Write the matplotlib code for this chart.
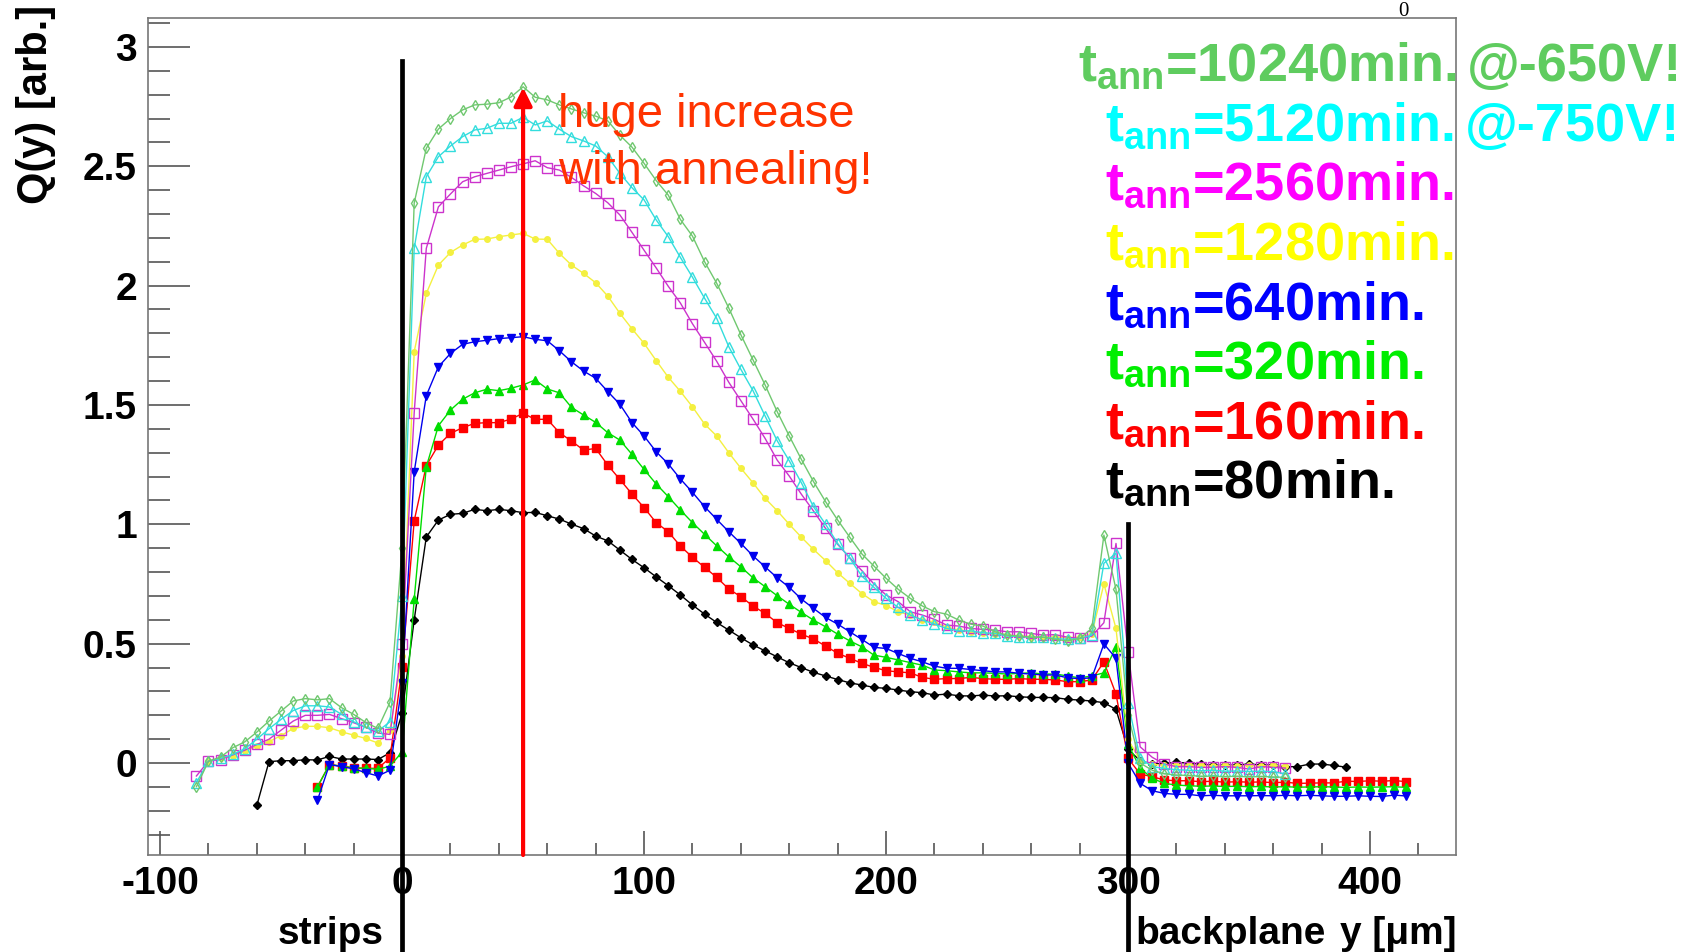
import numpy as np
import matplotlib
matplotlib.use("Agg")
import matplotlib.pyplot as plt

plt.rcParams['font.family'] = ['Liberation Sans', 'DejaVu Sans']
plt.rcParams['mathtext.fontset'] = 'custom'
plt.rcParams['mathtext.rm'] = 'Liberation Sans'
plt.rcParams['mathtext.bf'] = 'Liberation Sans:bold'
plt.rcParams['axes.unicode_minus'] = False

# --- data: Q(y) profiles, one point every 5 um ---
step = 5
x0_t10240 = -85
q_t10240 = [-0.099, 0.008, 0.025, 0.064, 0.089, 0.13, 0.176, 0.218, 0.26, 0.27, 0.265, 0.27, 0.232, 0.204, 0.17, 0.145, 0.255,
            0.9, 2.346, 2.575, 2.656, 2.70, 2.736, 2.757, 2.76, 2.766, 2.79, 2.833, 2.789, 2.778, 2.757, 2.74, 2.724, 2.71, 2.69,
            2.63, 2.58, 2.512, 2.44, 2.379, 2.277, 2.207, 2.1, 2.01, 1.906, 1.794, 1.689, 1.584, 1.472, 1.37, 1.272, 1.179, 1.095,
            1.018, 0.946, 0.876, 0.825, 0.774, 0.728, 0.69, 0.658, 0.634, 0.624, 0.599, 0.582, 0.574, 0.55, 0.536, 0.532, 0.527,
            0.527, 0.518, 0.512, 0.522, 0.564, 0.955, 0.728, 0.2, 0.0, -0.03, -0.045, -0.05, -0.052, -0.055, -0.055, -0.057,
            -0.055, -0.058, -0.056, -0.058, -0.06]
x0_t5120 = -85
q_t5120 = [-0.082, 0.008, 0.02, 0.036, 0.06, 0.1, 0.144, 0.183, 0.22, 0.24, 0.24, 0.235, 0.204, 0.173, 0.15, 0.134, 0.173,
           0.7, 2.156, 2.456, 2.54, 2.585, 2.624, 2.652, 2.659, 2.68, 2.68, 2.705, 2.673, 2.69, 2.655, 2.624, 2.606, 2.585, 2.54,
           2.47, 2.41, 2.359, 2.275, 2.205, 2.118, 2.035, 1.947, 1.863, 1.744, 1.649, 1.56, 1.454, 1.35, 1.266, 1.174, 1.074, 1.0,
           0.92, 0.858, 0.783, 0.736, 0.69, 0.652, 0.62, 0.599, 0.582, 0.564, 0.554, 0.554, 0.546, 0.543, 0.532, 0.53, 0.527,
           0.527, 0.522, 0.518, 0.522, 0.536, 0.837, 0.879, 0.25, 0.02, -0.015, -0.022, -0.028, -0.03, -0.032, -0.03, -0.034,
           -0.033, -0.035, -0.034, -0.036, -0.045]
x0_t2560 = -85
q_t2560 = [-0.054, 0.008, 0.015, 0.034, 0.054, 0.078, 0.1, 0.138, 0.176, 0.2, 0.2, 0.204, 0.186, 0.169, 0.15, 0.126, 0.12,
           0.5, 1.468, 2.156, 2.33, 2.384, 2.435, 2.456, 2.47, 2.484, 2.498, 2.51, 2.523, 2.494, 2.484, 2.453, 2.418, 2.386, 2.347,
           2.296, 2.223, 2.148, 2.074, 1.997, 1.927, 1.84, 1.762, 1.683, 1.595, 1.518, 1.441, 1.36, 1.269, 1.202, 1.126, 1.056,
           0.983, 0.916, 0.86, 0.806, 0.75, 0.704, 0.676, 0.634, 0.62, 0.602, 0.578, 0.574, 0.564, 0.56, 0.557, 0.55, 0.55,
           0.543, 0.536, 0.538, 0.527, 0.522, 0.532, 0.588, 0.92, 0.466, 0.068, 0.024, -0.004, -0.015, -0.015, -0.018, -0.018,
           -0.015, -0.018, -0.025, -0.015, -0.018, -0.021]
x0_t1280 = -80
q_t1280 = [0.008, 0.02, 0.03, 0.05, 0.07, 0.09, 0.115, 0.145, 0.154, 0.154, 0.148, 0.131, 0.117, 0.103, 0.084, 0.14,
           0.45, 1.723, 1.967, 2.086, 2.139, 2.17, 2.194, 2.195, 2.205, 2.212, 2.219, 2.195, 2.194, 2.135, 2.086, 2.051, 2.012,
           1.956, 1.884, 1.819, 1.758, 1.686, 1.616, 1.557, 1.492, 1.42, 1.37, 1.3, 1.235, 1.174, 1.109, 1.057, 1.0, 0.946,
           0.895, 0.848, 0.797, 0.753, 0.71, 0.676, 0.66, 0.634, 0.62, 0.60, 0.59, 0.57, 0.556, 0.55, 0.543, 0.54, 0.536, 0.533,
           0.53, 0.53, 0.528, 0.525, 0.528, 0.54, 0.75, 0.564, 0.1, 0.01, -0.005, -0.01, -0.008, -0.01, -0.01, -0.012, -0.01,
           -0.012, -0.01, -0.012, -0.01, -0.012]
x0_t640 = -35
q_t640 = [-0.156, -0.006, -0.015, -0.024, -0.04, -0.054, -0.03,
          0.334, 1.22, 1.539, 1.66, 1.716, 1.754, 1.765, 1.771, 1.778, 1.782, 1.786, 1.775, 1.769, 1.727, 1.681, 1.642, 1.612,
          1.556, 1.503, 1.426, 1.37, 1.304, 1.253, 1.19, 1.134, 1.074, 1.021, 0.969, 0.92, 0.868, 0.822, 0.776, 0.736, 0.687,
          0.648, 0.61, 0.582, 0.55, 0.518, 0.485, 0.48, 0.459, 0.439, 0.424, 0.406, 0.397, 0.397, 0.392, 0.387, 0.382, 0.382,
          0.376, 0.373, 0.369, 0.369, 0.357, 0.354, 0.357, 0.499, 0.439, 0.0, -0.085, -0.116, -0.127, -0.131, -0.131, -0.137,
          -0.135, -0.137, -0.137, -0.137, -0.136, -0.137, -0.135, -0.137, -0.135, -0.137, -0.139, -0.139, -0.137, -0.139,
          -0.14, -0.134, -0.138]
x0_t320 = -35
q_t320 = [-0.1, -0.006, -0.013, -0.02, -0.022, -0.026, -0.013,
          0.047, 0.687, 1.241, 1.413, 1.479, 1.524, 1.551, 1.566, 1.56, 1.57, 1.584, 1.605, 1.567, 1.551, 1.49, 1.458, 1.427,
          1.384, 1.353, 1.293, 1.23, 1.169, 1.116, 1.06, 1.007, 0.958, 0.91, 0.864, 0.822, 0.776, 0.739, 0.701, 0.665, 0.631,
          0.599, 0.571, 0.54, 0.512, 0.487, 0.452, 0.443, 0.432, 0.421, 0.41, 0.39, 0.387, 0.382, 0.378, 0.378, 0.376, 0.373,
          0.376, 0.378, 0.373, 0.373, 0.365, 0.357, 0.365, 0.378, 0.487, 0.08, -0.022, -0.064, -0.085, -0.092, -0.095, -0.097,
          -0.096, -0.098, -0.097, -0.099, -0.098, -0.1, -0.099, -0.101, -0.1, -0.099, -0.1, -0.102, -0.1, -0.101, -0.1,
          -0.099, -0.102]
x0_t160 = -35
q_t160 = [-0.1, -0.006, -0.013, -0.02, -0.022, -0.022, 0.022,
          0.401, 1.015, 1.246, 1.332, 1.381, 1.405, 1.423, 1.426, 1.426, 1.441, 1.465, 1.44, 1.44, 1.384, 1.349, 1.311, 1.318,
          1.248, 1.188, 1.127, 1.07, 1.007, 0.969, 0.909, 0.862, 0.82, 0.778, 0.729, 0.697, 0.658, 0.627, 0.588, 0.564, 0.54,
          0.52, 0.49, 0.46, 0.439, 0.418, 0.401, 0.387, 0.382, 0.378, 0.359, 0.351, 0.354, 0.354, 0.359, 0.354, 0.351, 0.351,
          0.354, 0.351, 0.351, 0.348, 0.341, 0.341, 0.348, 0.424, 0.289, 0.02, -0.046, -0.057, -0.071, -0.074, -0.074, -0.078,
          -0.076, -0.08, -0.078, -0.08, -0.079, -0.082, -0.08, -0.085, -0.084, -0.083, -0.083, -0.076, -0.077, -0.074, -0.076,
          -0.073, -0.078]
x0_t80 = -60
q_t80 = [-0.176, 0.006, 0.01, 0.01, 0.014, 0.013, 0.028, 0.017, 0.017, 0.017, 0.015, 0.043,
         0.208, 0.6, 0.947, 1.018, 1.042, 1.046, 1.063, 1.057, 1.063, 1.057, 1.049, 1.05, 1.036, 1.022, 1.001, 0.982, 0.951,
         0.931, 0.892, 0.853, 0.818, 0.78, 0.743, 0.704, 0.662, 0.624, 0.589, 0.557, 0.525, 0.495, 0.47, 0.445, 0.42, 0.40,
         0.38, 0.365, 0.35, 0.336, 0.327, 0.317, 0.313, 0.306, 0.299, 0.295, 0.285, 0.289, 0.282, 0.281, 0.285, 0.281, 0.282,
         0.278, 0.275, 0.275, 0.274, 0.267, 0.264, 0.26, 0.253, 0.225, 0.057, 0.01, -0.004, -0.001, 0.003, 0.0, -0.004, -0.01,
         -0.01, -0.008, -0.004, -0.008, -0.008, -0.015, -0.015, -0.004, -0.004, -0.01, -0.017]

labels = ['10240', '5120', '2560', '1280', '640', '320', '160', '80']

# (start, values, line colour, text colour, marker, open marker, marker size)
series = [
    (x0_t80, q_t80, 'black', 'black', 'D', False, 4),
    (x0_t160, q_t160, '#ff0000', '#ff0000', 's', False, 6),
    (x0_t320, q_t320, '#00dd00', '#00ee00', '^', False, 6),
    (x0_t640, q_t640, '#0000ee', '#0000ff', 'v', False, 6),
    (x0_t1280, q_t1280, '#f4f040', '#ffff00', 'o', False, 4),
    (x0_t2560, q_t2560, '#cc33cc', '#ff00ff', 's', True, 7),
    (x0_t5120, q_t5120, '#33dddd', '#00ffff', '^', True, 7),
    (x0_t10240, q_t10240, '#70c870', '#5fcc5f', 'd', True, 5),
]

W, H = 1691, 952
fig = plt.figure(figsize=(W / 100, H / 100), dpi=100)
ax = fig.add_axes([148 / W, 1 - 855 / H, (1456 - 148) / W, (855 - 18) / H])

for x0, q, lc, tc, mk, hollow, ms in series:
    xs = x0 + step * np.arange(len(q))
    ax.plot(xs, q, color=lc, lw=1.0, marker=mk, ms=ms,
            mfc='none' if hollow else lc, mec=lc, mew=1.0)

ax.set_xlim(-105, 435.5)
ax.set_ylim(-0.385, 3.121)
ax.set_xticks([-100, 0, 100, 200, 300, 400])
ax.set_xticks(np.arange(-100, 440, 20), minor=True)
ax.set_yticks([0, 0.5, 1, 1.5, 2, 2.5, 3])
ax.set_yticklabels(['0', '0.5', '1', '1.5', '2', '2.5', '3'])
ax.set_yticks(np.arange(-0.3, 3.15, 0.1), minor=True)
for lab in ax.get_xticklabels() + ax.get_yticklabels():
    lab.set_fontweight('bold')
ax.tick_params(axis='both', which='both', direction='in', colors='#555555', labelcolor='black',
               labelsize=28, width=1.2, top=False, right=False)
ax.tick_params(axis='y', which='major', length=30, pad=8)
ax.tick_params(axis='y', which='minor', length=16)
ax.tick_params(axis='x', which='major', length=17, pad=8)
ax.tick_params(axis='x', which='minor', length=9)
for sp in ax.spines.values():
    sp.set_color('#777777')
    sp.set_linewidth(1.2)

# boundary lines at strips and backplane
ax.plot([0, 0], [-0.8, 2.94], color='black', lw=3.4, clip_on=False, zorder=5)
ax.plot([300, 300], [-0.8, 1.0], color='black', lw=3.4, clip_on=False, zorder=5)

# red arrow
ax.annotate('', xy=(50, 2.83), xytext=(50, -0.385),
            arrowprops=dict(arrowstyle='-|>,head_length=0.4,head_width=0.2', color='#ff0000',
                            lw=3, mutation_scale=27, shrinkA=0, shrinkB=0), zorder=6)
ax.text(64.5, 2.664, 'huge increase', color='#ff3300', fontsize=34, ha='left', va='baseline')
ax.text(64.5, 2.426, 'with annealing!', color='#ff3300', fontsize=34, ha='left', va='baseline')

# legend texts
baselines = [81, 141, 200, 260, 320, 379, 439, 498]
tcols = {lab: s[3] for lab, s in zip(labels[::-1], series)}
for i, lab in enumerate(labels):
    xl = 1078 if i == 0 else 1105
    fig.text(xl / W, 1 - baselines[i] / H, r'$\mathbf{t_{ann}}$' + '=' + lab + 'min.',
             color=tcols[lab], fontsize=39, fontweight='bold', ha='left', va='baseline')
fig.text(1467 / W, 1 - baselines[0] / H, '@-650V!', color=tcols['10240'], fontsize=39,
         fontweight='bold', ha='left', va='baseline')
fig.text(1465 / W, 1 - baselines[1] / H, '@-750V!', color=tcols['5120'], fontsize=39,
         fontweight='bold', ha='left', va='baseline')

# axis labels and region names
fig.text(36 / W, 1 - 5 / H, 'Q(y) [arb.]', rotation=90, fontsize=30, fontweight='bold',
         ha='center', va='top')
fig.text(1456 / W, 1 - 944 / H, 'y [\u03bcm]', fontsize=28, fontweight='bold', ha='right', va='baseline')
fig.text(384 / W, 1 - 944 / H, 'strips', fontsize=28, fontweight='bold', ha='right', va='baseline')
fig.text(1135 / W, 1 - 944 / H, 'backplane', fontsize=28, fontweight='bold', ha='left', va='baseline')
fig.text(1403 / W, 1 - 16 / H, '0', family='Liberation Serif', fontsize=15, ha='center', va='baseline')

fig.savefig('out.png', dpi=100)
